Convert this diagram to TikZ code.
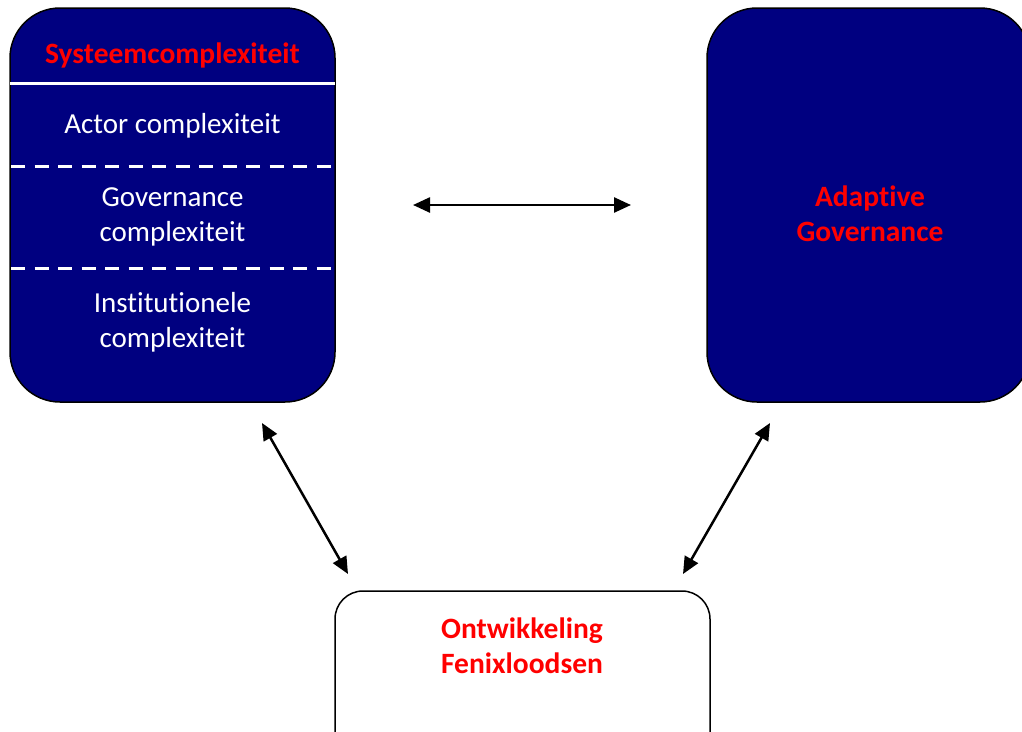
\documentclass[tikz,border=0pt]{standalone}
\usepackage{fontspec}
\setmainfont[Ligatures={NoCommon,NoContextual}]{Carlito}
\usetikzlibrary{arrows.meta}
\definecolor{navyfill}{RGB}{0,0,128}
\definecolor{redtext}{RGB}{255,0,0}
\begin{document}
\begin{tikzpicture}[x=1pt,y=-1pt,
  bigbox/.style={draw=black, line width=1.5pt, fill=navyfill, rounded corners=50pt, inner sep=0pt},
  smallbox/.style={draw=black, line width=1.5pt, fill=white, rounded corners=28pt, inner sep=0pt},
  titletext/.style={text=redtext, font=\fontsize{29.5pt}{35pt}\selectfont\bfseries, align=center, inner sep=0pt},
  itemtext/.style={text=white, font=\fontsize{29pt}{35pt}\selectfont, align=center, inner sep=0pt},
  solidsep/.style={draw=white, line width=3pt},
  dashsep/.style={draw=white, line width=3pt, dash pattern=on 14pt off 9.5pt},
  link/.style={line width=2.5pt, {Triangle[length=17pt,width=15pt]}-{Triangle[length=17pt,width=15pt]}}
]
\useasboundingbox (0,0) rectangle (1022,731);
\clip (0,0) rectangle (1022,731);

\node[bigbox, minimum width=325pt, minimum height=394pt] (L) at (172.5,205) {};
\node[bigbox, minimum width=323pt, minimum height=394pt] (R) at (868.5,205) {};
\node[smallbox, minimum width=375pt, minimum height=170pt] (B) at (522.5,676) {};

\coordinate (s0a) at (10,83);  \coordinate (s0b) at (335,83);
\coordinate (s1a) at (11,166); \coordinate (s1b) at (334,166);
\coordinate (s2a) at (11,268); \coordinate (s2b) at (334,268);
\draw[solidsep] (s0a) -- (s0b);
\draw[dashsep] (s1a) -- (s1b);
\draw[dashsep] (s2a) -- (s2b);

\node[titletext] (Lt) at (172.5,55) {Systeemcomplexiteit};
\node[itemtext] (La) at (172.5,126) {Actor complexiteit};
\node[itemtext] (Lg) at (172.5,217) {Governance\\complexiteit};
\node[itemtext] (Li) at (172.5,322) {Institutionele\\complexiteit};
\node[titletext] (Rt) at (870,214) {Adaptive\\Governance};
\node[titletext] (Bt) at (522,646) {Ontwikkeling\\Fenixloodsen};

\coordinate (h1) at (413,205); \coordinate (h2) at (631,205);
\coordinate (d1) at (262,423); \coordinate (d2) at (348,574);
\coordinate (e1) at (770,423); \coordinate (e2) at (683,574);
\draw[link] (h1) -- (h2);
\draw[link] (d1) -- (d2);
\draw[link] (e1) -- (e2);
\end{tikzpicture}
\end{document}
